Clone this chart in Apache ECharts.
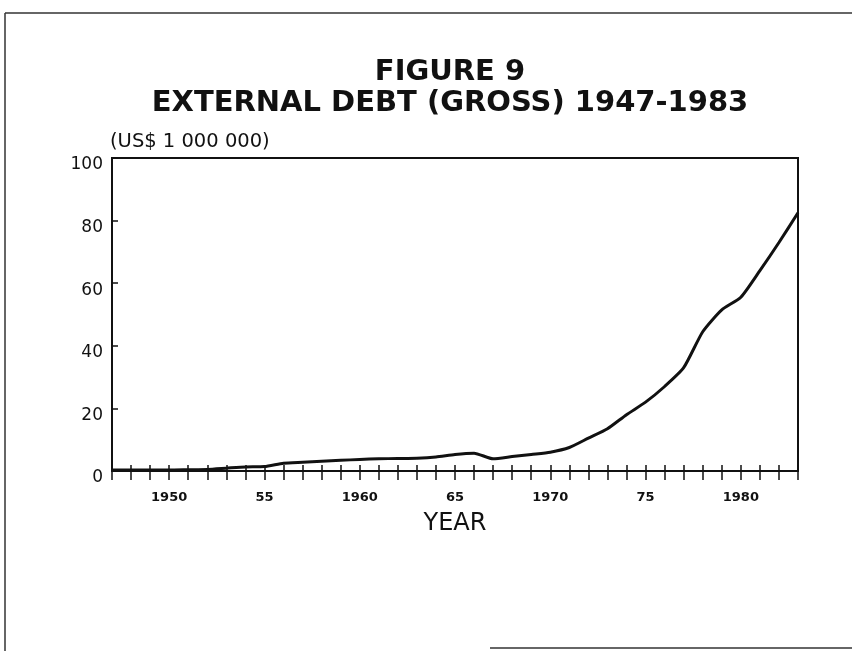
<!DOCTYPE html>
<html>
<head>
<meta charset="utf-8">
<script src="https://cdn.jsdelivr.net/npm/echarts@6/dist/echarts.min.js"></script>
<style>
  html, body { margin: 0; padding: 0; background: #fff; }
  #chart { width: 852px; height: 651px; }
</style>
</head>
<body>
<div id="chart"></div>
<script>
// years and gross external debt
var years = [1947, 1948, 1949, 1950, 1951, 1952, 1953, 1954, 1955, 1956,
             1957, 1958, 1959, 1960, 1961, 1962, 1963, 1964, 1965, 1966,
             1967, 1968, 1969, 1970, 1971, 1972, 1973, 1974, 1975, 1976,
             1977, 1978, 1979, 1980, 1981, 1982, 1983];
var debt = [0.3, 0.3, 0.3, 0.3, 0.4, 0.5, 0.9, 1.3, 1.4, 2.5,
            2.8, 3.1, 3.4, 3.7, 3.9, 4.0, 4.1, 4.5, 5.3, 5.7,
            3.9, 4.6, 5.3, 6.0, 7.5, 10.5, 13.5, 18.0, 22.0, 27.0,
            33.0, 44.5, 51.5, 55.5, 64.0, 73.0, 82.5];

// x labels shown only on some years
var labelYears = [1950, 1955, 1960, 1965, 1970, 1975, 1980];
var labelTexts = ['1950', '55', '1960', '65', '1970', '75', '1980'];

var chart = echarts.init(document.getElementById('chart'));

var points = years.map(function (y, i) { return [y, debt[i]]; });

chart.setOption({
    animation: false,
    backgroundColor: '#fff',
    title: {
        text: 'FIGURE 9\nEXTERNAL DEBT (GROSS) 1947-1983',
        left: 450,
        top: 57,
        textAlign: 'center',
        padding: 0,
        textStyle: {
            color: '#111',
            fontFamily: 'DejaVu Sans',
            fontWeight: 'bold',
            fontSize: 29,
            lineHeight: 31
        }
    },
    grid: {
        left: 112,
        top: 158,
        right: 54,
        bottom: 180,
        show: true,
        borderColor: '#111',
        borderWidth: 2
    },
    xAxis: [{
        type: 'value',
        min: 1947,
        max: 1983,
        interval: 1,
        position: 'bottom',
        name: 'YEAR',
        nameLocation: 'middle',
        nameGap: 41,
        nameTextStyle: {
            color: '#111',
            fontFamily: 'DejaVu Sans',
            fontSize: 24
        },
        axisLine: { show: true, lineStyle: { color: '#111', width: 2 } },
        axisTick: { show: true, inside: false, length: 9, lineStyle: { color: '#111', width: 1.5 } },
        axisLabel: {
            margin: 20,
            color: '#111',
            fontFamily: 'DejaVu Sans',
            fontWeight: 'bold',
            fontSize: 13,
            formatter: function (v) {
                var i = labelYears.indexOf(v);
                return i >= 0 ? labelTexts[i] : '';
            }
        },
        splitLine: { show: false }
    }, {
        // second axis only for the inner half of the crossing ticks
        type: 'value',
        min: 1947,
        max: 1983,
        interval: 1,
        position: 'bottom',
        axisLine: { show: false },
        axisTick: { show: true, inside: true, length: 6, lineStyle: { color: '#111', width: 1.5 } },
        axisLabel: { show: false },
        splitLine: { show: false }
    }],
    yAxis: {
        type: 'value',
        min: 0,
        max: 100,
        interval: 20,
        name: '(US$ 1 000 000)',
        nameLocation: 'end',
        nameGap: 6,
        nameTextStyle: {
            align: 'left',
            padding: [0, 0, 0, -2],
            color: '#111',
            fontFamily: 'DejaVu Sans',
            fontSize: 19.5
        },
        axisLine: { show: true, lineStyle: { color: '#111', width: 2 } },
        axisTick: { show: true, inside: true, length: 6, lineStyle: { color: '#111', width: 1.5 } },
        axisLabel: {
            margin: 9,
            verticalAlign: 'top',
            lineHeight: 14,
            color: '#111',
            fontFamily: 'DejaVu Sans',
            fontSize: 17
        },
        splitLine: { show: false }
    },
    series: [{
        type: 'line',
        data: points,
        showSymbol: false,
        smooth: 0.2,
        lineStyle: { color: '#111', width: 3 }
    }],
    // page frame of the scanned sheet
    graphic: [
        { type: 'line', shape: { x1: 5, y1: 13, x2: 852, y2: 13 }, style: { stroke: '#333', lineWidth: 1.5 } },
        { type: 'line', shape: { x1: 5, y1: 13, x2: 5, y2: 651 }, style: { stroke: '#333', lineWidth: 1.5 } },
        { type: 'line', shape: { x1: 490, y1: 648, x2: 852, y2: 648 }, style: { stroke: '#333', lineWidth: 1.5 } }
    ]
});

window.addEventListener('resize', function () {
    chart.resize();
});
</script>
</body>
</html>
